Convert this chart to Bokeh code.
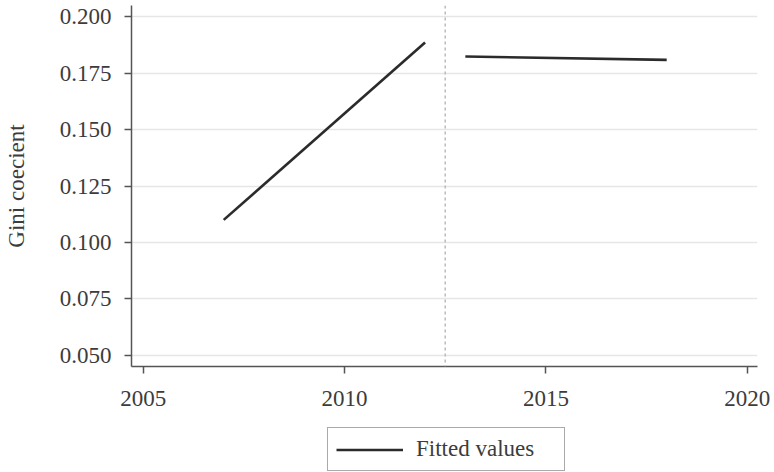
from bokeh.plotting import figure
from bokeh.models import Range1d, Span, Legend, LegendItem, FixedTicker
from bokeh.layouts import column
from bokeh.embed import file_html
from bokeh.resources import INLINE

# Data
seg1_years = [2007, 2012]
seg1_gini = [0.110, 0.1885]
seg2_years = [2013, 2018]
seg2_gini = [0.1823, 0.1808]
break_year = 2012.5
x_ticks = [2005, 2010, 2015, 2020]
y_ticks = [0.050, 0.075, 0.100, 0.125, 0.150, 0.175, 0.200]
y_label = "Gini coecient"
legend_label = "Fitted values"

FONT = "Liberation Serif"
TXT = "#3c3c3c"
LINE = "#2b2b2b"

p = figure(width=774, height=412, output_backend="svg", toolbar_location=None,
           x_range=Range1d(2004.71, 2020.255), y_range=Range1d(0.04513, 0.20487),
           min_border_left=130, min_border_right=17, min_border_top=5, min_border_bottom=46)
p.outline_line_color = None
p.background_fill_color = "white"
p.border_fill_color = "white"

l1 = p.line(seg1_years, seg1_gini, line_color=LINE, line_width=2.6)
l2 = p.line(seg2_years, seg2_gini, line_color=LINE, line_width=2.6)

p.add_layout(Span(location=break_year, dimension="height", line_color="#bbbbbb",
                  line_width=1.5, line_dash="3 3"))

p.xgrid.visible = False
p.ygrid.grid_line_color = "#e6e6e6"
p.ygrid.grid_line_width = 1.5
p.ygrid.ticker = FixedTicker(ticks=y_ticks)

p.xaxis.ticker = FixedTicker(ticks=x_ticks)
p.yaxis.ticker = FixedTicker(ticks=y_ticks)
p.yaxis.major_label_overrides = {t: f"{t:.3f}" for t in y_ticks}
p.xaxis.major_label_overrides = {t: str(t) for t in x_ticks}

for ax in (p.xaxis[0], p.yaxis[0]):
    ax.axis_line_color = "#555555"
    ax.axis_line_width = 1.5
    ax.major_tick_line_color = "#555555"
    ax.major_tick_line_width = 1.5
    ax.major_tick_out = 7
    ax.major_tick_in = 0
    ax.minor_tick_out = 0
    ax.minor_tick_in = 0
    ax.major_label_text_font = FONT
    ax.major_label_text_font_size = "23px"
    ax.major_label_text_color = TXT
    ax.major_label_standoff = 13
p.xaxis.major_label_standoff = 17

p.yaxis.axis_label = y_label
p.yaxis.axis_label_text_font = FONT
p.yaxis.axis_label_text_font_size = "23px"
p.yaxis.axis_label_text_font_style = "normal"
p.yaxis.axis_label_text_color = TXT
p.yaxis.axis_label_standoff = 28

# Legend panel below the chart
p2 = figure(width=774, height=60, output_backend="svg", toolbar_location=None,
            x_range=Range1d(0, 1), y_range=Range1d(0, 1),
            min_border=0, min_border_left=0, min_border_right=0,
            min_border_top=0, min_border_bottom=0)
p2.axis.visible = False
p2.grid.visible = False
p2.outline_line_color = None
p2.border_fill_color = "white"
proxy = p2.line([5, 6], [5, 6], line_color=LINE, line_width=2.6)

legend = Legend(items=[LegendItem(label=legend_label, renderers=[proxy])],
                location=(196, 1), orientation="horizontal",
                padding=8, margin=0, glyph_width=67, glyph_height=21,
                label_standoff=13, label_width=140, label_height=21,
                label_text_font=FONT, label_text_font_size="23px",
                label_text_color=TXT,
                border_line_color="#555555", border_line_width=1.5,
                background_fill_color="white", background_fill_alpha=1.0)
p2.add_layout(legend, "center")

layout = column(p, p2, spacing=0)
open("out.html", "w").write(file_html(layout, INLINE))
